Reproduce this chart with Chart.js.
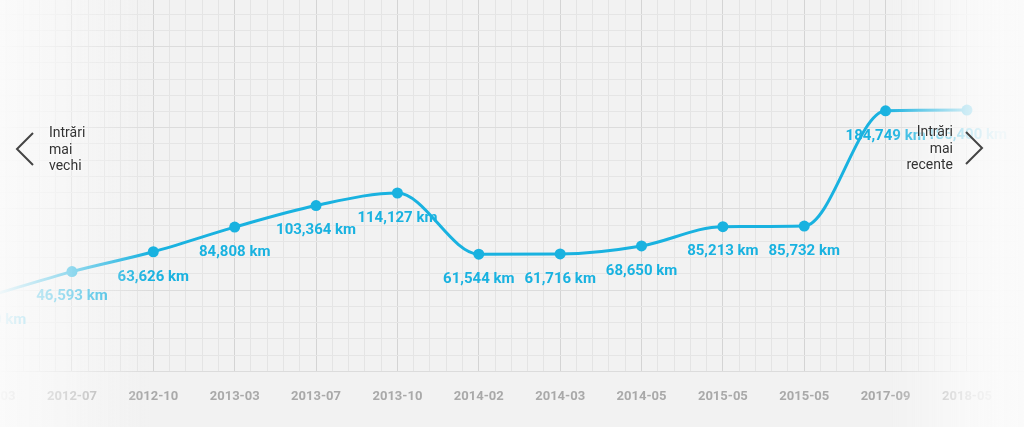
<!DOCTYPE html>
<html><head><meta charset="utf-8">
<script src="https://cdn.jsdelivr.net/npm/chart.js@4/dist/chart.umd.min.js"></script>
<style>
html,body{margin:0;padding:0;background:#f2f2f2;overflow:hidden}
#wrap{position:relative;width:1024px;height:427px}
#c{position:absolute;left:0;top:0}
.fade{position:absolute;top:0;height:427px;pointer-events:none}
#fl{left:0;width:150px;background:linear-gradient(to right, rgba(250,250,250,0.96), rgba(250,250,250,0.55) 70px, rgba(250,250,250,0))}
#fr{left:886px;width:138px;background:linear-gradient(to right, rgba(250,250,250,0), rgba(250,250,250,0.8) 80px, rgba(250,250,250,0.96) 112px, rgba(250,250,250,0.97))}
.nav{position:absolute;font:14px Roboto, sans-serif;color:#333;line-height:16.5px;white-space:nowrap;text-shadow:0 0 3px #fafafa,0 0 2px #fafafa,0 0 1px #fafafa}
svg.chev{position:absolute;pointer-events:none}
</style></head>
<body>
<div id="wrap">
<canvas id="c" width="1024" height="427"></canvas>
<div class="fade" id="fl"></div>
<div class="fade" id="fr"></div>
<svg class="chev" style="left:12px;top:130px" width="26" height="38"><polyline points="21,3 5,19 21,35" fill="none" stroke="#444" stroke-width="2"/></svg>
<div class="nav" style="left:49px;top:124px">Intrări<br>mai<br>vechi</div>
<svg class="chev" style="left:961px;top:129px" width="26" height="38"><polyline points="5,3 21,19 5,35" fill="none" stroke="#444" stroke-width="2"/></svg>
<div class="nav" style="right:71px;top:123px;text-align:right">Intrări<br>mai<br>recente</div>
</div>
<script>
const categories = ['2012-03','2012-07','2012-10','2013-03','2013-07','2013-10','2014-02','2014-03','2014-05','2015-05','2015-05','2017-09','2018-05'];
const mileage = [26000, 46593, 63626, 84808, 103364, 114127, 61544, 61716, 68650, 85213, 85732, 184749, 185400];
const unit = 'km';

const LINE = '#19b2e0';
const X_MIN = 0.1155, X_MAX = 12.701;
const Y_MIN = -39200, Y_MAX = 280000, Y_STEP = 13960;

const fmt = v => v.toLocaleString('en-US') + ' ' + unit;

const labelPlugin = {
  id: 'vlabels',
  afterDatasetsDraw(chart) {
    const meta = chart.getDatasetMeta(0);
    const ctx = chart.ctx;
    ctx.save();
    ctx.font = 'bold 15px Roboto, sans-serif';
    ctx.fillStyle = LINE;
    ctx.textAlign = 'center';
    ctx.textBaseline = 'middle';
    meta.data.forEach((pt, i) => ctx.fillText(fmt(mileage[i]), pt.x, pt.y + 25));
    ctx.restore();
  }
};

new Chart(document.getElementById('c'), {
  type: 'line',
  data: {
    datasets: [{
      data: mileage.map((v, i) => ({x: i, y: v})),
      borderColor: LINE,
      backgroundColor: LINE,
      pointBackgroundColor: LINE,
      pointBorderColor: LINE,
      borderWidth: 3,
      pointRadius: 5.5,
      pointBorderWidth: 0,
      cubicInterpolationMode: 'monotone',
      fill: false
    }]
  },
  options: {
    responsive: false,
    animation: false,
    devicePixelRatio: 1,
    layout: {autoPadding: false, padding: {left: 0, right: 0, top: 0, bottom: 4}},
    plugins: {legend: {display: false}, tooltip: {enabled: false}},
    scales: {
      x: {
        type: 'linear',
        min: X_MIN, max: X_MAX,
        afterBuildTicks(scale) {
          const t = [];
          for (let i = 0; i <= 64; i++) t.push({value: i / 5});
          scale.ticks = t;
        },
        afterFit(scale) { scale.paddingLeft = 0; scale.paddingRight = 0; },
        border: {display: false},
        grid: {
          drawTicks: false,
          lineWidth: 1,
          color: c => (Math.abs(c.tick.value - Math.round(c.tick.value)) < 1e-6) ? '#d4d4d4' : '#e4e4e4'
        },
        ticks: {
          autoSkip: false, maxRotation: 0, padding: 18,
          color: '#a9a9a9',
          font: {family: 'Roboto', weight: 'bold', size: 13},
          callback: v => (Math.abs(v - Math.round(v)) < 1e-6) ? (categories[Math.round(v)] || '') : ''
        }
      },
      y: {
        type: 'linear',
        min: Y_MIN, max: Y_MAX,
        afterBuildTicks(scale) {
          const t = [];
          for (let v = Y_MIN; v <= Y_MAX; v += Y_STEP) t.push({value: v});
          scale.ticks = t;
        },
        afterFit(scale) { scale.width = 0; },
        border: {display: false},
        grid: {
          drawTicks: false,
          lineWidth: 1,
          color: c => (c.index % 5 === 0) ? '#dcdcdc' : '#e5e5e5'
        },
        ticks: {display: false}
      }
    }
  },
  plugins: [labelPlugin]
});
</script>
</body></html>
